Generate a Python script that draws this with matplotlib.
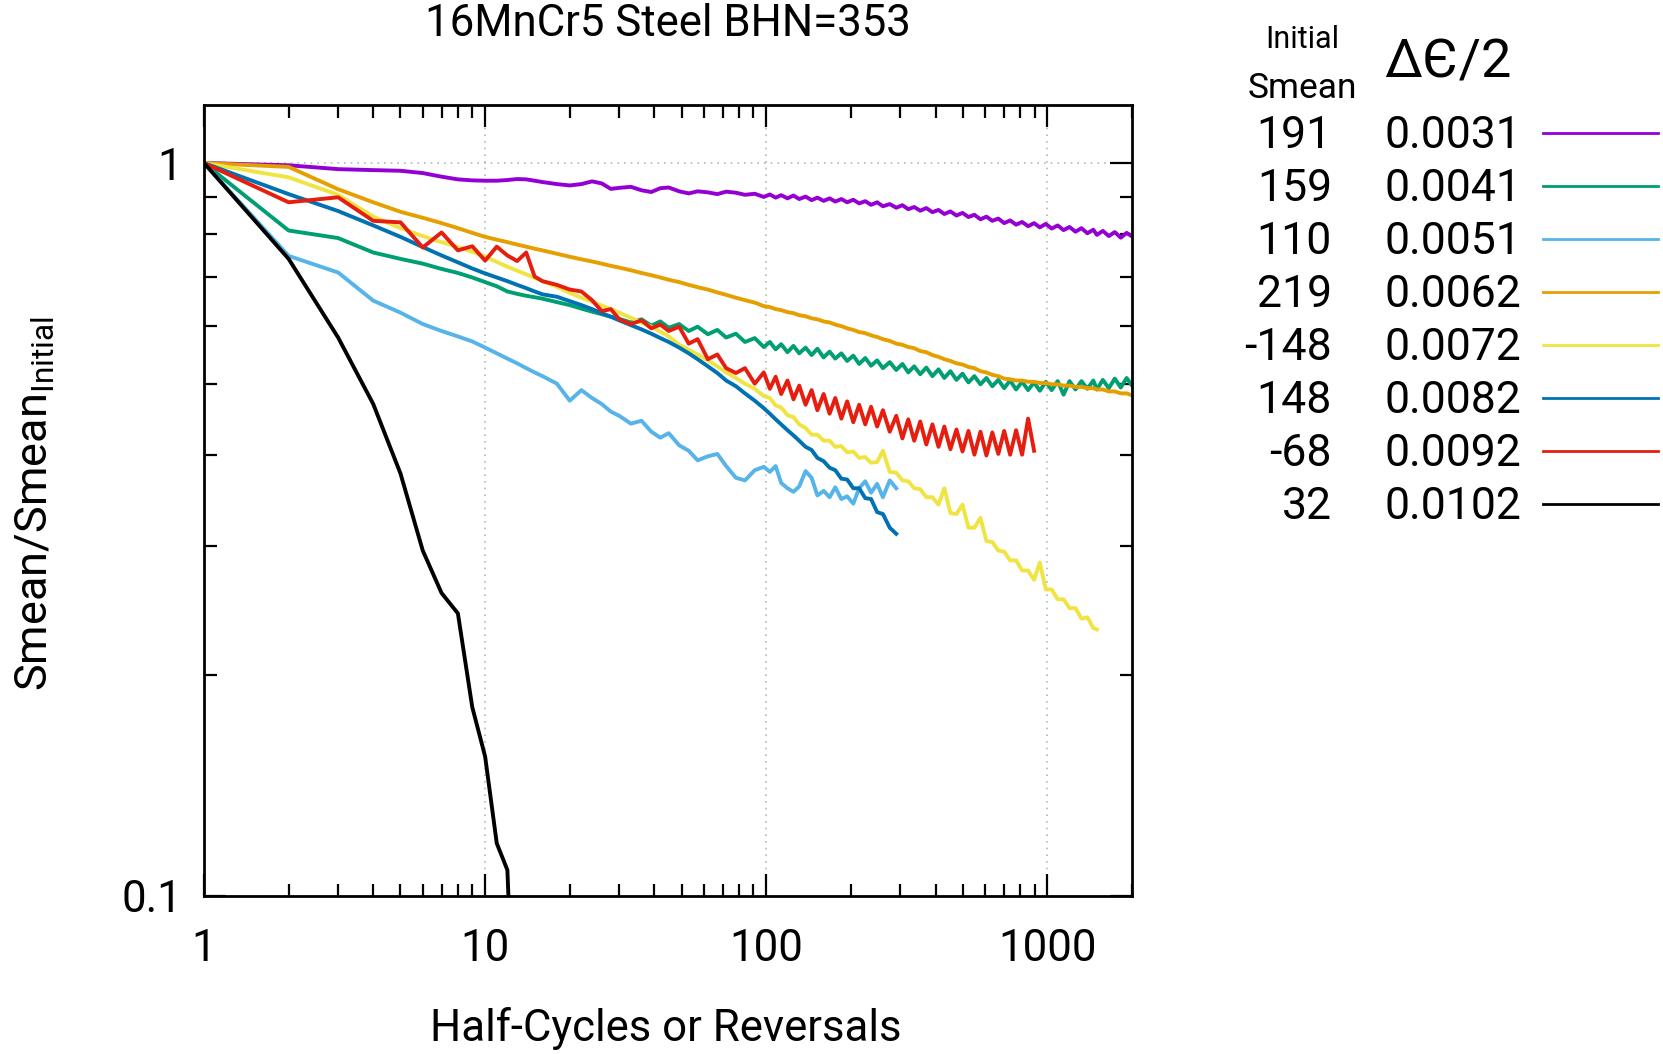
import numpy as np
import matplotlib
matplotlib.use('Agg')
import matplotlib.pyplot as plt
from matplotlib.lines import Line2D
from matplotlib.ticker import LogLocator, NullFormatter

plt.rcParams['font.family'] = ['Roboto', 'DejaVu Sans']
plt.rcParams['mathtext.fontset'] = 'custom'
plt.rcParams['mathtext.rm'] = 'Roboto'

# half-cycle numbers shared by every test (each curve stops at its own last reversal)
half_cycles = [1, 2, 3, 4, 5, 6, 7, 8, 9, 10,
               11, 12, 13, 14, 15, 16, 18, 20, 22, 24,
               26, 28, 30, 33, 36, 39, 42, 45, 49, 53,
               57, 62, 67, 72, 78, 84, 91, 98, 103, 108,
               113, 119, 125, 131, 138, 145, 152, 160, 168, 176,
               185, 194, 204, 214, 225, 236, 248, 260, 275, 290,
               305, 320, 336, 353, 371, 390, 410, 430, 452, 475,
               499, 524, 550, 578, 607, 637, 669, 702, 737, 774,
               813, 854, 897, 940, 987, 1036, 1088, 1142, 1199, 1259,
               1322, 1388, 1457, 1500, 1575, 1654, 1737, 1824, 1915, 2000]

# Smean / Smean_initial for each strain amplitude
s_0031 = [1.000, 0.993, 0.981, 0.978, 0.976, 0.969, 0.958, 0.950, 0.947, 0.946,
          0.946, 0.948, 0.951, 0.950, 0.946, 0.942, 0.936, 0.932, 0.936, 0.944,
          0.938, 0.922, 0.925, 0.928, 0.918, 0.913, 0.924, 0.926, 0.915, 0.909,
          0.915, 0.912, 0.907, 0.914, 0.911, 0.905, 0.908, 0.899, 0.906, 0.897,
          0.904, 0.895, 0.903, 0.893, 0.900, 0.890, 0.897, 0.888, 0.895, 0.886,
          0.893, 0.884, 0.891, 0.881, 0.887, 0.877, 0.884, 0.873, 0.879, 0.869,
          0.876, 0.865, 0.871, 0.861, 0.868, 0.857, 0.863, 0.852, 0.859, 0.848,
          0.855, 0.844, 0.850, 0.838, 0.845, 0.834, 0.840, 0.828, 0.835, 0.824,
          0.831, 0.820, 0.828, 0.817, 0.826, 0.814, 0.822, 0.810, 0.818, 0.806,
          0.815, 0.802, 0.811, 0.798, 0.808, 0.795, 0.805, 0.791, 0.803, 0.794]

s_0041 = [1.000, 0.809, 0.790, 0.755, 0.740, 0.729, 0.717, 0.708, 0.698, 0.688,
          0.679, 0.668, 0.663, 0.659, 0.656, 0.653, 0.646, 0.640, 0.633, 0.627,
          0.622, 0.617, 0.613, 0.606, 0.612, 0.600, 0.608, 0.596, 0.603, 0.590,
          0.598, 0.584, 0.592, 0.578, 0.585, 0.570, 0.577, 0.561, 0.570, 0.557,
          0.566, 0.552, 0.563, 0.550, 0.560, 0.547, 0.558, 0.543, 0.553, 0.541,
          0.550, 0.537, 0.546, 0.532, 0.542, 0.529, 0.538, 0.525, 0.535, 0.522,
          0.532, 0.518, 0.528, 0.515, 0.526, 0.512, 0.523, 0.509, 0.520, 0.506,
          0.516, 0.502, 0.512, 0.499, 0.509, 0.496, 0.506, 0.493, 0.505, 0.491,
          0.503, 0.490, 0.502, 0.489, 0.503, 0.490, 0.504, 0.483, 0.504, 0.491,
          0.504, 0.492, 0.505, 0.491, 0.506, 0.493, 0.508, 0.494, 0.509, 0.497]

s_0051 = [1.000, 0.747, 0.709, 0.649, 0.625, 0.603, 0.590, 0.580, 0.571, 0.560,
          0.550, 0.541, 0.533, 0.525, 0.518, 0.512, 0.500, 0.474, 0.490, 0.478,
          0.469, 0.458, 0.452, 0.441, 0.445, 0.430, 0.422, 0.428, 0.412, 0.405,
          0.393, 0.398, 0.401, 0.386, 0.372, 0.369, 0.381, 0.385, 0.379, 0.386,
          0.366, 0.360, 0.356, 0.362, 0.380, 0.372, 0.352, 0.357, 0.350, 0.361,
          0.348, 0.351, 0.343, 0.360, 0.368, 0.355, 0.365, 0.350, 0.369, 0.360]

s_0062 = [1.000, 0.988, 0.921, 0.884, 0.858, 0.842, 0.828, 0.815, 0.803, 0.793,
          0.786, 0.780, 0.774, 0.769, 0.764, 0.760, 0.752, 0.745, 0.739, 0.734,
          0.729, 0.724, 0.720, 0.714, 0.708, 0.703, 0.698, 0.693, 0.688, 0.682,
          0.677, 0.672, 0.666, 0.661, 0.655, 0.650, 0.645, 0.638, 0.636, 0.632,
          0.630, 0.626, 0.624, 0.620, 0.618, 0.614, 0.612, 0.608, 0.606, 0.602,
          0.599, 0.595, 0.592, 0.588, 0.586, 0.582, 0.579, 0.575, 0.572, 0.567,
          0.565, 0.561, 0.559, 0.554, 0.552, 0.547, 0.544, 0.540, 0.537, 0.533,
          0.531, 0.527, 0.525, 0.520, 0.518, 0.514, 0.512, 0.508, 0.507, 0.505,
          0.505, 0.503, 0.503, 0.501, 0.501, 0.499, 0.499, 0.497, 0.497, 0.495,
          0.495, 0.493, 0.493, 0.491, 0.491, 0.488, 0.488, 0.485, 0.485, 0.482]

s_0072 = [1.000, 0.956, 0.905, 0.845, 0.815, 0.795, 0.780, 0.768, 0.757, 0.745,
          0.733, 0.722, 0.713, 0.705, 0.697, 0.690, 0.678, 0.665, 0.655, 0.647,
          0.639, 0.632, 0.625, 0.615, 0.606, 0.598, 0.589, 0.580, 0.565, 0.556,
          0.548, 0.538, 0.528, 0.518, 0.509, 0.500, 0.492, 0.481, 0.478, 0.467,
          0.464, 0.453, 0.450, 0.440, 0.435, 0.426, 0.426, 0.418, 0.418, 0.410,
          0.411, 0.403, 0.404, 0.396, 0.397, 0.390, 0.391, 0.405, 0.379, 0.378,
          0.369, 0.368, 0.360, 0.359, 0.350, 0.350, 0.342, 0.360, 0.333, 0.332,
          0.342, 0.318, 0.318, 0.328, 0.305, 0.304, 0.296, 0.295, 0.287, 0.287,
          0.278, 0.278, 0.270, 0.285, 0.262, 0.262, 0.254, 0.254, 0.247, 0.247,
          0.239, 0.240, 0.232, 0.231]

s_0082 = [1.000, 0.907, 0.860, 0.822, 0.793, 0.768, 0.748, 0.732, 0.718, 0.707,
          0.698, 0.690, 0.682, 0.675, 0.668, 0.662, 0.657, 0.648, 0.640, 0.632,
          0.624, 0.617, 0.610, 0.601, 0.593, 0.585, 0.577, 0.570, 0.560, 0.550,
          0.540, 0.528, 0.517, 0.505, 0.496, 0.485, 0.474, 0.463, 0.455, 0.447,
          0.440, 0.432, 0.425, 0.418, 0.410, 0.406, 0.396, 0.392, 0.384, 0.381,
          0.371, 0.370, 0.360, 0.360, 0.349, 0.348, 0.334, 0.332, 0.318, 0.312]

s_0092 = [1.000, 0.884, 0.898, 0.834, 0.830, 0.767, 0.804, 0.760, 0.770, 0.736,
          0.769, 0.748, 0.735, 0.755, 0.700, 0.690, 0.682, 0.672, 0.668, 0.650,
          0.628, 0.632, 0.612, 0.603, 0.610, 0.595, 0.602, 0.590, 0.598, 0.567,
          0.575, 0.540, 0.548, 0.525, 0.517, 0.525, 0.500, 0.518, 0.492, 0.511,
          0.484, 0.505, 0.476, 0.497, 0.468, 0.490, 0.460, 0.484, 0.455, 0.478,
          0.448, 0.473, 0.443, 0.468, 0.440, 0.465, 0.437, 0.460, 0.430, 0.452,
          0.421, 0.447, 0.418, 0.444, 0.413, 0.440, 0.410, 0.437, 0.407, 0.433,
          0.404, 0.431, 0.400, 0.430, 0.399, 0.429, 0.401, 0.431, 0.400, 0.432,
          0.400, 0.448, 0.405]

s_0102 = [1.000, 0.740, 0.578, 0.469, 0.377, 0.296, 0.259, 0.243, 0.181, 0.155,
          0.118, 0.1085, 0.050]

curves = [s_0031, s_0041, s_0051, s_0062, s_0072, s_0082, s_0092, s_0102]
smean_initial = ['191', '159', '110', '219', '-148', '148', '-68', '32']
strain_amp = ['0.0031', '0.0041', '0.0051', '0.0062', '0.0072', '0.0082', '0.0092', '0.0102']
colors = ['#9400d3', '#009e73', '#56b4e9', '#e69f00', '#f0e442', '#0072b2', '#e51e10', '#000000']

W, H = 1663, 1054
fig = plt.figure(figsize=(W / 100, H / 100), dpi=100)
ax = fig.add_axes([204 / W, 1 - 896 / H, (1132 - 204) / W, (896 - 105) / H])

for y, c in zip(curves, colors):
    ax.plot(half_cycles[:len(y)], y, color=c, lw=2.8)

ax.set_xscale('log')
ax.set_yscale('log')
ax.set_xlim(1, 2000)
ax.set_ylim(0.1, 1.2)

ax.set_xticks([1, 10, 100, 1000], labels=['1', '10', '100', '1000'])
ax.set_yticks([0.1, 1], labels=['0.1', '1'])
for axis in (ax.xaxis, ax.yaxis):
    axis.set_minor_locator(LogLocator(base=10, subs=np.arange(2, 10), numticks=20))
    axis.set_minor_formatter(NullFormatter())

ax.tick_params(which='both', direction='in', top=True, right=True,
               labelsize=31.5, width=1.6, colors='black')
ax.tick_params(which='major', length=16)
ax.tick_params(which='minor', length=9)
ax.tick_params(axis='x', pad=23)
ax.tick_params(axis='y', pad=16)
for s in ax.spines.values():
    s.set_linewidth(2.0)

ax.grid(True, which='major', linestyle=(0, (1, 3)), color='#b8b8b8', lw=1.2)

fig.text(668 / W, 1 - 24 / H, '16MnCr5 Steel BHN=353', ha='center', va='center', fontsize=31.5)
fig.text(666 / W, 1 - 1028 / H, 'Half-Cycles or Reversals', ha='center', va='center', fontsize=31.5)
fig.text(35 / W, 1 - 504 / H, 'Smean/Smean$_\\mathregular{Initial}$', ha='center', va='center',
         rotation=90, fontsize=32.5)

# legend table: initial mean stress, strain amplitude, line sample
fig.text(1302 / W, 1 - 40 / H, 'Initial', ha='center', va='center', fontsize=22)
fig.text(1302 / W, 1 - 88 / H, 'Smean', ha='center', va='center', fontsize=25.5)
fig.text(1448 / W, 1 - 63 / H, '\u0394\u0404/2', ha='center', va='center', fontsize=39)

for i in range(len(curves)):
    yy = 1 - (135.8 + 53 * i) / H
    fig.text(1332 / W, yy, smean_initial[i], ha='right', va='center', fontsize=32)
    fig.text(1453 / W, yy, strain_amp[i], ha='center', va='center', fontsize=32)
    fig.add_artist(Line2D([1543 / W, 1658 / W], [1 - (132.6 + 53 * i) / H] * 2,
                          color=colors[i], lw=2.0))

fig.savefig('out.png', dpi=100)
